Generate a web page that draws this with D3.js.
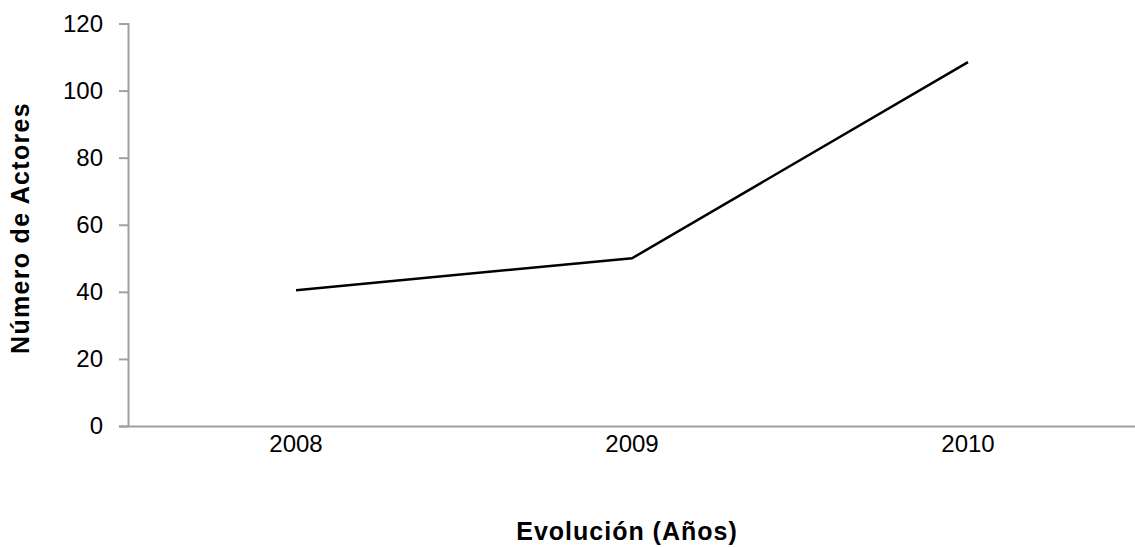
<!DOCTYPE html>
<html><head><meta charset="utf-8">
<script src="https://cdn.jsdelivr.net/npm/d3@7"></script>
<style>body{margin:0;background:#fff}</style>
</head><body>
<svg id="c" width="1135" height="547"></svg>
<script>
const years = ["2008", "2009", "2010"];
const actores = [40.5, 50, 108.5];
const yTicks = [0, 20, 40, 60, 80, 100, 120];

const svg = d3.select("#c");
const mLeft = 128, mRight = 1136, mTop = 23.5, mBottom = 426;
const font = "'Liberation Sans', Arial, sans-serif";

const x = d3.scaleBand().domain(years).range([mLeft, mRight]);
const y = d3.scaleLinear().domain([0, 120]).range([mBottom, mTop]);

const axisColor = "#a0a0a0";

// y axis
const ya = svg.append("g").attr("transform", `translate(${mLeft},0)`)
  .call(d3.axisLeft(y).tickValues(yTicks).tickSize(9).tickPadding(16));
ya.select(".domain").attr("stroke", axisColor).attr("stroke-width", 2);
ya.selectAll(".tick line").attr("stroke", axisColor).attr("stroke-width", 2);
ya.selectAll(".tick text").attr("font-family", font).attr("font-size", 24).attr("fill", "#000");

// x axis
const xa = svg.append("g").attr("transform", `translate(0,${mBottom})`)
  .call(d3.axisBottom(x).tickSize(0).tickPadding(9));
xa.select(".domain").attr("stroke", axisColor).attr("stroke-width", 2);
xa.selectAll(".tick text").attr("font-family", font).attr("font-size", 24).attr("fill", "#000");

// line
const line = d3.line().x((d, i) => x(years[i]) + x.bandwidth() / 2).y(d => y(d));
svg.append("path").datum(actores).attr("d", line)
  .attr("fill", "none").attr("stroke", "#000").attr("stroke-width", 2.5);

// titles
svg.append("text").attr("x", 627).attr("y", 540).attr("text-anchor", "middle")
  .attr("font-family", font).attr("font-weight", "bold").attr("font-size", 25)
  .attr("letter-spacing", 1).text("Evolución (Años)");
svg.append("text").attr("transform", "translate(29,228) rotate(-90)").attr("text-anchor", "middle")
  .attr("font-family", font).attr("font-weight", "bold").attr("font-size", 25)
  .attr("letter-spacing", 1.3).text("Número de Actores");
</script>
</body></html>
